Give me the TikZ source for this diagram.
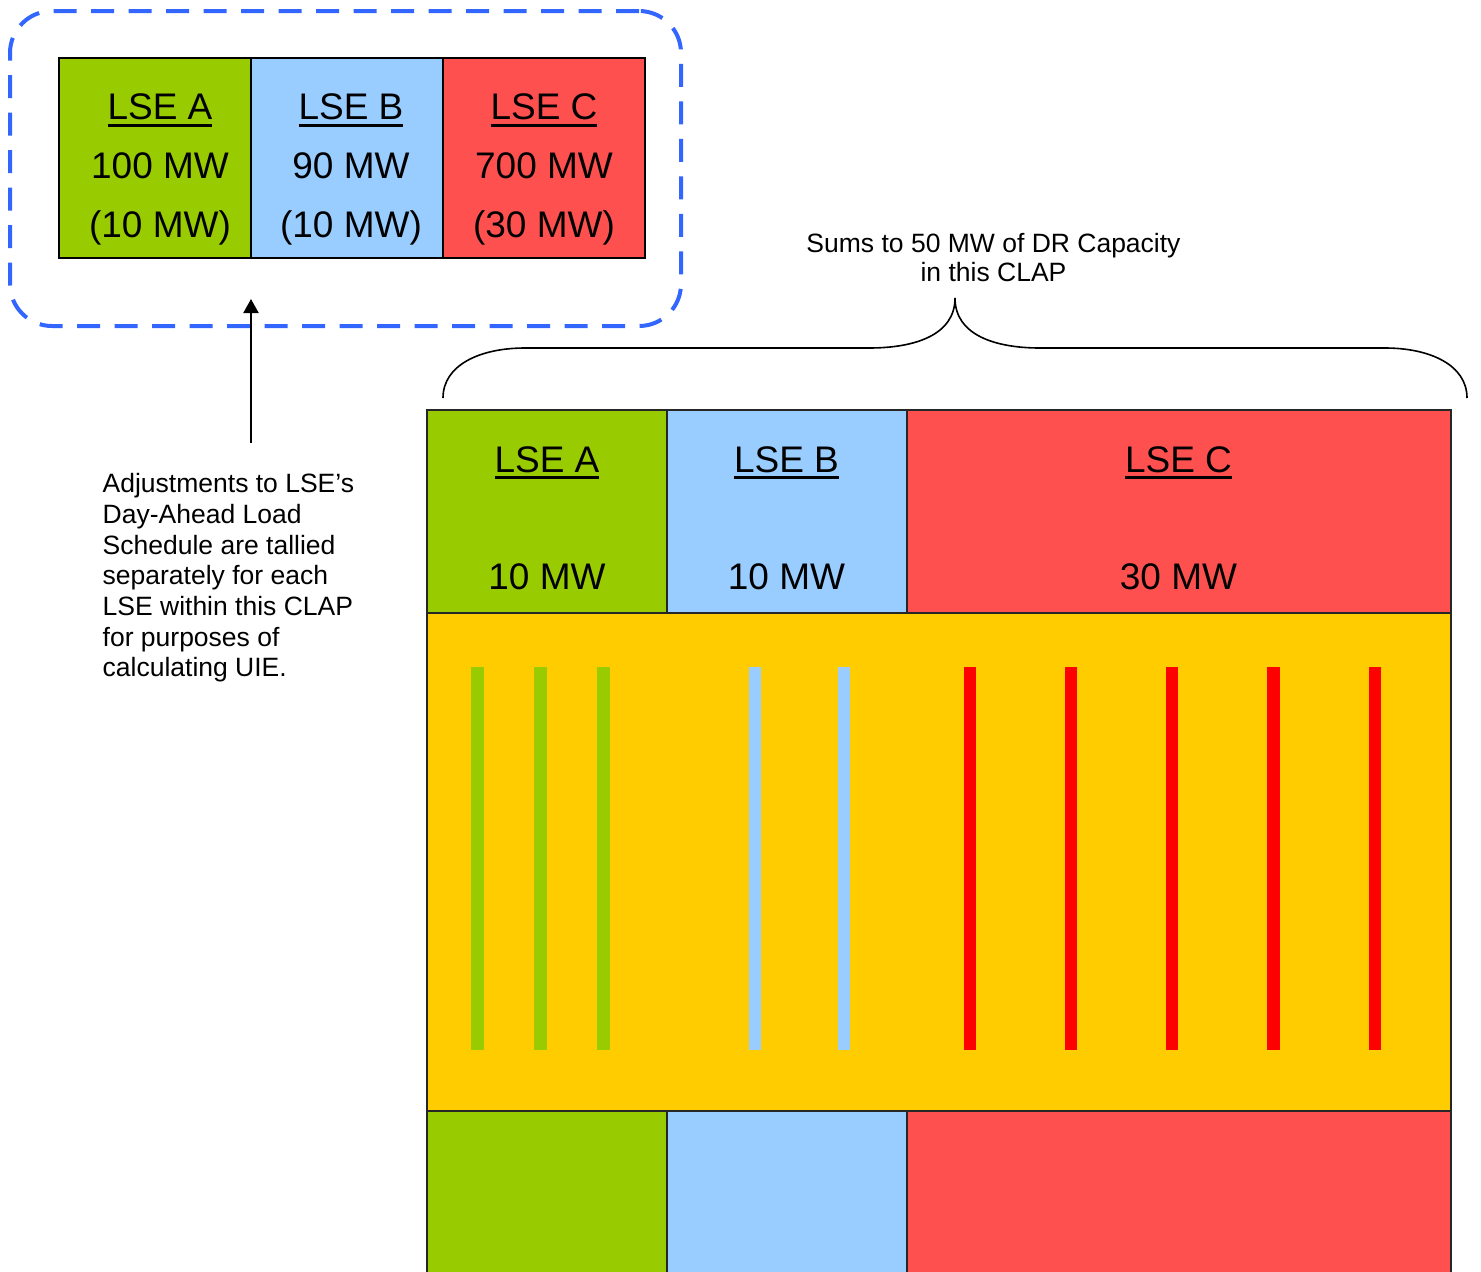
\documentclass[tikz,border=0pt]{standalone}
\usepackage{fontspec}
\setmainfont{Liberation Sans}
\usetikzlibrary{arrows.meta}
\definecolor{lsegreen}{HTML}{99CC00}
\definecolor{lseblue}{HTML}{99CCFF}
\definecolor{lsered}{HTML}{FF5050}
\definecolor{clapyellow}{HTML}{FFCC00}
\definecolor{barred}{HTML}{FF0000}
\definecolor{dashblue}{HTML}{3366FF}
\newcommand\lseul[1]{\setbox0\hbox{#1}\rlap{\rule[-7pt]{\wd0}{2.7pt}}\box0}
\begin{document}
\begin{tikzpicture}[x=1pt,y=-1pt,
  topcell/.style={draw=black, line width=2pt, inner sep=0, minimum height=200},
  botcell/.style={draw=black!85, line width=1.5pt, inner sep=0},
  bigtxt/.style={font=\fontsize{37}{44}\selectfont, anchor=base, inner sep=0},
  smalltxt/.style={font=\fontsize{26.5}{30.67}\selectfont, inner sep=0},
  bar/.style={inner sep=0, minimum width=12.5, minimum height=382.5}]
\useasboundingbox (0,0) rectangle (1481,1272);
\clip (0,0) rectangle (1481,1272);

% group frame
\node[draw=dashblue, line width=4pt, dash pattern=on 23pt off 14.5pt,
      rounded corners=42pt, minimum width=671, minimum height=315, inner sep=0]
      (grp) at (345.5,168.5) {};

% top cells
\node[topcell, fill=lsegreen, minimum width=192] (ta) at (155,158) {};
\node[topcell, fill=lseblue,  minimum width=192] (tb) at (347,158) {};
\node[topcell, fill=lsered,   minimum width=202] (tc) at (544,158) {};

\node[bigtxt] (taname) at (160,119.5) {\lseul{LSE A}};
\node[bigtxt] (taload) at (160,178) {100 MW};
\node[bigtxt] (tadr)   at (160,237.5) {(10 MW)};
\node[bigtxt] (tbname) at (351,119.5) {\lseul{LSE B}};
\node[bigtxt] (tbload) at (351,178) {90 MW};
\node[bigtxt] (tbdr)   at (351,237.5) {(10 MW)};
\node[bigtxt] (tcname) at (544,119.5) {\lseul{LSE C}};
\node[bigtxt] (tcload) at (544,178) {700 MW};
\node[bigtxt] (tcdr)   at (544,237.5) {(30 MW)};

% arrow and note
\coordinate (arrS) at (251,443);
\coordinate (arrE) at (251,299);
\draw[line width=2pt, -{Triangle[width=15pt,length=14pt]}] (arrS) -- (arrE);
\node[smalltxt, anchor=base west, align=left] (note) at (102.5,676.7)
  {Adjustments to LSE’s\\Day-Ahead Load\\Schedule are tallied\\separately for each\\LSE within this CLAP\\for purposes of\\calculating UIE.};

% brace and its label
\node[smalltxt, align=center, anchor=base, font=\fontsize{26.5}{29.2}\selectfont] (sums) at (993.5,281.7)
  {Sums to 50 MW of DR Capacity\\in this CLAP};
\draw[line width=1.6pt] (443,398) .. controls (443,365) and (480,348) .. (525,348)
  -- (869,348) .. controls (915,348) and (955,335) .. (955,298)
  .. controls (955,335) and (995,348) .. (1040,348)
  -- (1385,348) .. controls (1430,348) and (1467,365) .. (1467,398);

% big CLAP box: top row
\node[botcell, fill=lsegreen, minimum width=240, minimum height=203] (ba) at (547,511.5) {};
\node[botcell, fill=lseblue,  minimum width=240, minimum height=203] (bb) at (787,511.5) {};
\node[botcell, fill=lsered,   minimum width=544, minimum height=203] (bc) at (1179,511.5) {};
\node[bigtxt] (baname) at (547,472) {\lseul{LSE A}};
\node[bigtxt] (baval)  at (547,589) {10 MW};
\node[bigtxt] (bbname) at (786.5,472) {\lseul{LSE B}};
\node[bigtxt] (bbval)  at (786.5,589) {10 MW};
\node[bigtxt] (bcname) at (1178.5,472) {\lseul{LSE C}};
\node[bigtxt] (bcval)  at (1178.5,589) {30 MW};

% yellow band
\node[botcell, fill=clapyellow, minimum width=1024, minimum height=498] (yb) at (939,862) {};
\foreach \i/\x in {1/477.5,2/540.5,3/603.5}
  \node[bar, fill=lsegreen] (g\i) at (\x,858.25) {};
\foreach \i/\x in {1/755,2/843.5}
  \node[bar, fill=lseblue, minimum width=12] (b\i) at (\x,858.25) {};
\foreach \i/\x in {1/970,2/1071,3/1172,4/1273.5,5/1375}
  \node[bar, fill=barred] (r\i) at (\x,858.25) {};

% lower row
\node[botcell, fill=lsegreen, minimum width=240, minimum height=190] (la) at (547,1206) {};
\node[botcell, fill=lseblue,  minimum width=240, minimum height=190] (lb) at (787,1206) {};
\node[botcell, fill=lsered,   minimum width=544, minimum height=190] (lc) at (1179,1206) {};
\end{tikzpicture}
\end{document}
